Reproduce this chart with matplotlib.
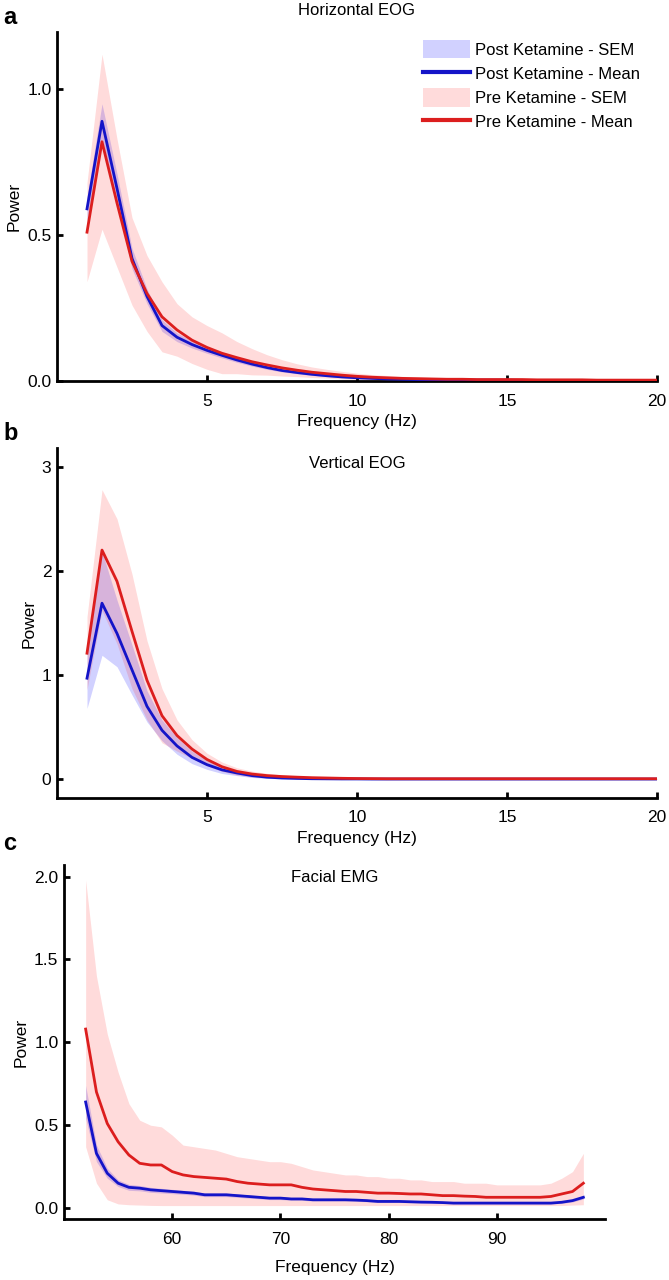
"""Pre vs post ketamine power spectra: horizontal EOG, vertical EOG, facial EMG."""
import matplotlib

matplotlib.use("Agg")
import matplotlib.pyplot as plt
import numpy as np
from matplotlib.lines import Line2D
from matplotlib.patches import Patch

# ---- data ----
FREQ_EOG = [1.0, 1.5, 2.0, 2.5, 3.0, 3.5, 4.0, 4.5, 5.0, 5.5,
            6.0, 6.5, 7.0, 7.5, 8.0, 8.5, 9.0, 9.5, 10.0, 10.5,
            11.0, 11.5, 12.0, 12.5, 13.0, 13.5, 14.0, 14.5, 15.0, 15.5,
            16.0, 16.5, 17.0, 17.5, 18.0, 18.5, 19.0, 19.5, 20.0]

HEOG_POST_MEAN = [0.59, 0.89, 0.66, 0.42, 0.29, 0.19, 0.15, 0.125, 0.105, 0.088,
                  0.072, 0.058, 0.046, 0.036, 0.029, 0.023, 0.018, 0.014, 0.011, 0.009,
                  0.007, 0.006, 0.005, 0.004, 0.004, 0.003, 0.003, 0.003, 0.003, 0.002,
                  0.002, 0.002, 0.002, 0.002, 0.002, 0.002, 0.002, 0.002, 0.002]
HEOG_POST_SEM = [0.04, 0.06, 0.05, 0.035, 0.025, 0.02, 0.015, 0.012, 0.01, 0.009,
                 0.008, 0.007, 0.006, 0.005, 0.004, 0.004, 0.003, 0.003, 0.002, 0.002,
                 0.002, 0.002, 0.002, 0.002, 0.002, 0.002, 0.002, 0.002, 0.002, 0.002,
                 0.002, 0.002, 0.002, 0.002, 0.002, 0.002, 0.002, 0.002, 0.002]
HEOG_PRE_MEAN = [0.51, 0.82, 0.61, 0.41, 0.30, 0.22, 0.175, 0.14, 0.115, 0.095,
                 0.080, 0.066, 0.055, 0.045, 0.037, 0.030, 0.025, 0.020, 0.016, 0.013,
                 0.011, 0.009, 0.008, 0.007, 0.006, 0.006, 0.005, 0.005, 0.005, 0.005,
                 0.004, 0.004, 0.004, 0.004, 0.003, 0.003, 0.003, 0.003, 0.003]
HEOG_PRE_SEM = [0.17, 0.30, 0.22, 0.15, 0.13, 0.12, 0.09, 0.08, 0.075, 0.07,
                0.055, 0.045, 0.035, 0.028, 0.022, 0.018, 0.015, 0.013, 0.011, 0.009,
                0.008, 0.007, 0.006, 0.005, 0.005, 0.004, 0.004, 0.004, 0.004, 0.003,
                0.003, 0.003, 0.003, 0.003, 0.003, 0.003, 0.003, 0.003, 0.003]

VEOG_POST_MEAN = [0.97, 1.69, 1.40, 1.05, 0.70, 0.47, 0.32, 0.21, 0.14, 0.09,
                  0.06, 0.035, 0.02, 0.012, 0.008, 0.005, 0.004, 0.003, 0.003, 0.002,
                  0.002, 0.002, 0.002, 0.002, 0.002, 0.002, 0.002, 0.002, 0.002, 0.002,
                  0.002, 0.002, 0.002, 0.002, 0.002, 0.002, 0.002, 0.002, 0.002]
VEOG_POST_SEM = [0.29, 0.50, 0.32, 0.24, 0.15, 0.10, 0.08, 0.06, 0.045, 0.035,
                 0.025, 0.018, 0.012, 0.008, 0.006, 0.005, 0.004, 0.003, 0.003, 0.002,
                 0.002, 0.002, 0.002, 0.002, 0.002, 0.002, 0.002, 0.002, 0.002, 0.002,
                 0.002, 0.002, 0.002, 0.002, 0.002, 0.002, 0.002, 0.002, 0.002]
VEOG_PRE_MEAN = [1.21, 2.20, 1.90, 1.42, 0.95, 0.61, 0.42, 0.29, 0.19, 0.12,
                 0.075, 0.05, 0.035, 0.026, 0.02, 0.015, 0.012, 0.009, 0.007, 0.006,
                 0.005, 0.005, 0.005, 0.005, 0.005, 0.005, 0.005, 0.005, 0.005, 0.005,
                 0.005, 0.005, 0.005, 0.005, 0.005, 0.005, 0.005, 0.005, 0.005]
VEOG_PRE_SEM = [0.35, 0.58, 0.60, 0.55, 0.38, 0.26, 0.15, 0.09, 0.06, 0.045,
                0.035, 0.028, 0.022, 0.016, 0.012, 0.010, 0.008, 0.007, 0.006, 0.005,
                0.004, 0.004, 0.004, 0.004, 0.004, 0.004, 0.004, 0.004, 0.004, 0.004,
                0.004, 0.004, 0.004, 0.004, 0.004, 0.004, 0.004, 0.004, 0.004]

FREQ_EMG = [52, 53, 54, 55, 56, 57, 58, 59, 60, 61,
            62, 63, 64, 65, 66, 67, 68, 69, 70, 71,
            72, 73, 74, 75, 76, 77, 78, 79, 80, 81,
            82, 83, 84, 85, 86, 87, 88, 89, 90, 91,
            92, 93, 94, 95, 96, 97, 98]
EMG_POST_MEAN = [0.64, 0.33, 0.21, 0.15, 0.125, 0.12, 0.11, 0.105, 0.10, 0.095,
                 0.09, 0.08, 0.08, 0.08, 0.075, 0.07, 0.065, 0.06, 0.06, 0.055,
                 0.055, 0.05, 0.05, 0.05, 0.05, 0.048, 0.045, 0.04, 0.04, 0.04,
                 0.038, 0.036, 0.035, 0.033, 0.03, 0.03, 0.03, 0.03, 0.03, 0.03,
                 0.03, 0.03, 0.03, 0.03, 0.035, 0.045, 0.065]
EMG_POST_SEM = [0.10, 0.05, 0.03, 0.02, 0.018, 0.016, 0.015, 0.014, 0.013, 0.012,
                0.012, 0.011, 0.011, 0.011, 0.01, 0.01, 0.009, 0.009, 0.009, 0.008,
                0.008, 0.008, 0.008, 0.008, 0.008, 0.007, 0.007, 0.006, 0.006, 0.006,
                0.006, 0.006, 0.006, 0.005, 0.005, 0.005, 0.005, 0.005, 0.005, 0.005,
                0.005, 0.005, 0.005, 0.005, 0.006, 0.008, 0.01]
EMG_PRE_MEAN = [1.08, 0.70, 0.51, 0.40, 0.32, 0.27, 0.26, 0.26, 0.22, 0.20,
                0.19, 0.185, 0.18, 0.175, 0.16, 0.15, 0.145, 0.14, 0.14, 0.14,
                0.125, 0.115, 0.11, 0.105, 0.10, 0.10, 0.095, 0.09, 0.09, 0.088,
                0.085, 0.085, 0.08, 0.075, 0.075, 0.072, 0.07, 0.065, 0.065, 0.065,
                0.065, 0.065, 0.065, 0.07, 0.085, 0.10, 0.15]
# pre-ketamine EMG band is clearly asymmetric, keep its bounds directly
EMG_PRE_UPPER = [1.98, 1.40, 1.05, 0.82, 0.63, 0.53, 0.50, 0.49, 0.44, 0.38,
                 0.37, 0.36, 0.35, 0.33, 0.31, 0.30, 0.29, 0.28, 0.28, 0.27,
                 0.25, 0.23, 0.22, 0.21, 0.20, 0.20, 0.19, 0.19, 0.18, 0.18,
                 0.17, 0.17, 0.16, 0.16, 0.16, 0.15, 0.15, 0.15, 0.14, 0.14,
                 0.14, 0.14, 0.14, 0.15, 0.18, 0.22, 0.33]
EMG_PRE_LOWER = [0.37, 0.15, 0.05, 0.025, 0.02, 0.018, 0.016, 0.015, 0.015, 0.015,
                 0.015, 0.015, 0.015, 0.015, 0.015, 0.015, 0.015, 0.015, 0.015, 0.015,
                 0.015, 0.015, 0.015, 0.015, 0.015, 0.015, 0.015, 0.015, 0.015, 0.015,
                 0.015, 0.015, 0.015, 0.015, 0.015, 0.015, 0.015, 0.015, 0.015, 0.015,
                 0.015, 0.015, 0.015, 0.015, 0.015, 0.018, 0.02]

LEGEND_LABELS = ["Post Ketamine - SEM", "Post Ketamine - Mean",
                 "Pre Ketamine - SEM", "Pre Ketamine - Mean"]

# ---- style ----
BLUE = "#1414c8"
RED = "#dc1e1e"
BLUE_FILL = "#0000ff"
RED_FILL = "#ff0000"
BLUE_ALPHA = 0.18
RED_ALPHA = 0.14
FS = 12.5
W, H = 669, 1280

plt.rcParams.update({
    "font.family": ["Liberation Sans", "DejaVu Sans"],
    "font.size": FS,
    "axes.linewidth": 2.0,
    "xtick.direction": "in",
    "ytick.direction": "in",
    "xtick.major.size": 4,
    "ytick.major.size": 4,
    "xtick.major.width": 2.0,
    "ytick.major.width": 2.0,
})


def px_axes(fig, x0, y0, x1, y1):
    """Axes from pixel box (left, top, right, bottom) of the 669x1280 canvas."""
    return fig.add_axes([x0 / W, 1 - y1 / H, (x1 - x0) / W, (y1 - y0) / H])


def draw(ax, freq, post_m, post_lo, post_hi, pre_m, pre_lo, pre_hi):
    ax.fill_between(freq, post_lo, post_hi, color=BLUE_FILL, alpha=BLUE_ALPHA, lw=0, zorder=1)
    ax.fill_between(freq, pre_lo, pre_hi, color=RED_FILL, alpha=RED_ALPHA, lw=0, zorder=1)
    ax.plot(freq, post_m, color=BLUE, lw=2.0, zorder=3)
    ax.plot(freq, pre_m, color=RED, lw=2.0, zorder=3)
    for side in ("top", "right"):
        ax.spines[side].set_visible(False)
    ax.tick_params(axis="x", pad=9, labelsize=FS)
    ax.tick_params(axis="y", pad=4, labelsize=FS)
    ax.set_xlabel("Frequency (Hz)", fontsize=FS)
    ax.set_ylabel("Power", fontsize=FS)


def band(m, s):
    m, s = np.asarray(m), np.asarray(s)
    return m - s, m + s


fig = plt.figure(figsize=(W / 100, H / 100), dpi=100)

# a: horizontal EOG
ax_a = px_axes(fig, 57, 32, 657, 381)
draw(ax_a, FREQ_EOG, HEOG_POST_MEAN, *band(HEOG_POST_MEAN, HEOG_POST_SEM),
     HEOG_PRE_MEAN, *band(HEOG_PRE_MEAN, HEOG_PRE_SEM))
ax_a.set_xlim(0, 20)
ax_a.set_ylim(0, 1.196)
ax_a.set_xticks([5, 10, 15, 20])
ax_a.set_yticks([0.0, 0.5, 1.0])
ax_a.set_yticklabels(["0.0", "0.5", "1.0"])
ax_a.set_title("Horizontal EOG", fontsize=12, pad=12)

handles = [Patch(facecolor=BLUE_FILL, alpha=BLUE_ALPHA, lw=0),
           Line2D([0], [0], color=BLUE, lw=3),
           Patch(facecolor=RED_FILL, alpha=RED_ALPHA, lw=0),
           Line2D([0], [0], color=RED, lw=3)]
ax_a.legend(handles, LEGEND_LABELS, loc="upper left", bbox_to_anchor=(423 / W, 1 - 40 / H),
            bbox_transform=fig.transFigure, frameon=False, fontsize=12,
            borderpad=0, borderaxespad=0, handlelength=2.8, handleheight=1.3,
            handletextpad=0.3, labelspacing=0.36)

# b: vertical EOG
ax_b = px_axes(fig, 57, 448, 657, 798)
draw(ax_b, FREQ_EOG, VEOG_POST_MEAN, *band(VEOG_POST_MEAN, VEOG_POST_SEM),
     VEOG_PRE_MEAN, *band(VEOG_PRE_MEAN, VEOG_PRE_SEM))
ax_b.set_xlim(0, 20)
ax_b.set_ylim(-0.18, 3.18)
ax_b.set_xticks([5, 10, 15, 20])
ax_b.set_yticks([0, 1, 2, 3])
ax_b.text(0.5, 0.957, "Vertical EOG", transform=ax_b.transAxes, ha="center", va="center", fontsize=12)

# c: facial EMG
ax_c = px_axes(fig, 64, 865, 605, 1219)
draw(ax_c, FREQ_EMG, EMG_POST_MEAN, *band(EMG_POST_MEAN, EMG_POST_SEM),
     EMG_PRE_MEAN, EMG_PRE_LOWER, EMG_PRE_UPPER)
ax_c.set_xlim(50, 100)
ax_c.set_ylim(-0.066, 2.07)
ax_c.set_xticks([60, 70, 80, 90])
ax_c.set_yticks([0.0, 0.5, 1.0, 1.5, 2.0])
ax_c.set_yticklabels(["0.0", "0.5", "1.0", "1.5", "2.0"])
ax_c.xaxis.labelpad = 10
ax_c.text(0.5, 0.966, "Facial EMG", transform=ax_c.transAxes, ha="center", va="center", fontsize=12)

# panel letters
for letter, y in (("a", 17), ("b", 434), ("c", 843)):
    fig.text(3 / W, 1 - y / H, letter, fontsize=17, fontweight="bold", ha="left", va="center")

fig.savefig("out.png", dpi=100)
